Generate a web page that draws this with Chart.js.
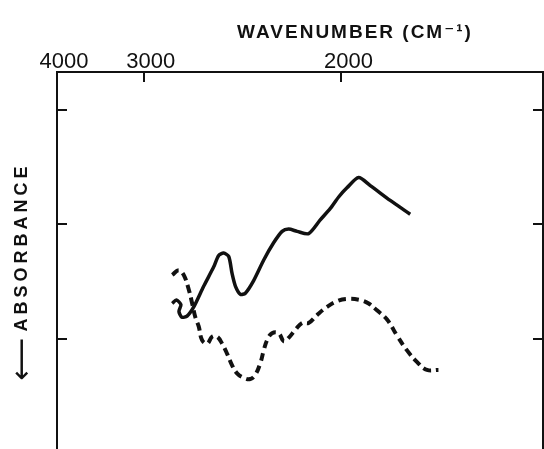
<!DOCTYPE html>
<html>
<head>
<meta charset="utf-8">
<script src="https://cdn.jsdelivr.net/npm/chart.js@4/dist/chart.umd.min.js"></script>
<style>
  html, body { margin: 0; padding: 0; background: #fff; overflow: hidden; }
  canvas { display: block; }
</style>
</head>
<body>
<canvas id="chart" width="544" height="476"></canvas>
<script>
// wavenumber axis (cm-1), left edge of the frame is labelled 4000
const xLeftEdge = 3439;
const xRightEdge = 980;
const xTickValues = [3439, 3000, 2000];
const xTickLabels = ['4000', '3000', '2000'];
const yTickValues = [1, 2, 3, 4];

// solid trace
const solidWavenumber = [2856, 2835, 2812, 2822, 2807, 2781, 2747, 2697, 2646, 2621, 2596, 2570, 2553, 2536, 2511, 2486,
  2444, 2393, 2343, 2300, 2267, 2224, 2166, 2107, 2056, 2014, 1972, 1913, 1854, 1753, 1652];
const solidAbsorbance = [2.69, 2.66, 2.70, 2.76, 2.81, 2.80, 2.72, 2.54, 2.37, 2.27, 2.25, 2.28, 2.43, 2.54, 2.61, 2.60,
  2.49, 2.31, 2.16, 2.06, 2.04, 2.06, 2.08, 1.96, 1.86, 1.76, 1.68, 1.59, 1.66, 1.79, 1.91];

// dashed trace
const dashedWavenumber = [2856, 2823, 2798, 2772, 2755, 2739, 2722, 2705, 2679, 2654, 2629, 2604, 2578, 2553, 2528, 2494,
  2461, 2435, 2410, 2393, 2376, 2351, 2317, 2292, 2267, 2233, 2199, 2166, 2123, 2073, 2022, 1972, 1904, 1862, 1820, 1769,
  1719, 1668, 1618, 1567, 1509];
const dashedAbsorbance = [2.44, 2.40, 2.44, 2.57, 2.69, 2.81, 2.89, 3.01, 3.04, 2.98, 2.98, 3.04, 3.13, 3.23, 3.30, 3.34,
  3.35, 3.31, 3.21, 3.10, 3.01, 2.95, 2.95, 3.02, 2.99, 2.92, 2.86, 2.86, 2.79, 2.72, 2.67, 2.65, 2.66, 2.69, 2.75, 2.83,
  2.97, 3.10, 3.20, 3.27, 3.27];

const toPoints = (xs, ys) => xs.map((x, i) => ({x: x, y: ys[i]}));

// axis titles drawn by hand, they are letter spaced in the original
const axisTitles = {
    id: 'axisTitles',
    afterDraw(chart) {
        const ctx = chart.ctx;
        ctx.save();
        ctx.fillStyle = '#111';
        ctx.letterSpacing = '2px';
        ctx.font = 'bold 19px "Liberation Sans", "DejaVu Sans", sans-serif';
        ctx.textAlign = 'center';
        ctx.textBaseline = 'alphabetic';
        ctx.fillText('WAVENUMBER (CM\u207B\u00B9)', 355, 38);

        ctx.rotate(-Math.PI / 2);
        ctx.textBaseline = 'middle';
        ctx.letterSpacing = '4px';
        ctx.font = 'bold 18px "Liberation Sans", "DejaVu Sans", sans-serif';
        ctx.fillText('ABSORBANCE', -247, 22);
        ctx.letterSpacing = '0px';
        ctx.font = '30px "DejaVu Sans", sans-serif';
        ctx.fillText('\u27F5', -359, 23);
        ctx.restore();
    }
};

const ctx = document.getElementById('chart').getContext('2d');
new Chart(ctx, {
    type: 'line',
    data: {
        datasets: [
            {
                label: 'solid',
                data: toPoints(solidWavenumber, solidAbsorbance),
                borderColor: '#111',
                borderWidth: 3.5,
                pointRadius: 0,
                tension: 0.25,
                fill: false
            },
            {
                label: 'dashed',
                data: toPoints(dashedWavenumber, dashedAbsorbance),
                borderColor: '#111',
                borderWidth: 4,
                borderDash: [8, 5],
                pointRadius: 0,
                tension: 0.4,
                fill: false
            }
        ]
    },
    options: {
        responsive: false,
        animation: false,
        devicePixelRatio: 1,
        layout: { padding: 0 },
        plugins: {
            legend: { display: false },
            tooltip: { enabled: false }
        },
        scales: {
            x: {
                type: 'linear',
                position: 'top',
                reverse: true,
                min: xRightEdge,
                max: xLeftEdge,
                afterBuildTicks: (scale) => {
                    scale.ticks = xTickValues.map(v => ({value: v}));
                },
                afterFit: (scale) => { scale.height = 72; },
                ticks: {
                    color: '#111',
                    font: { family: '"Liberation Sans", sans-serif', size: 22 },
                    maxRotation: 0,
                    autoSkip: false,
                    padding: 7,
                    labelOffset: 7,
                    callback: (value) => xTickLabels[xTickValues.indexOf(value)]
                },
                grid: {
                    drawOnChartArea: false,
                    color: '#111',
                    lineWidth: 2,
                    tickLength: -10
                },
                border: { color: '#111', width: 2 }
            },
            y: {
                type: 'linear',
                position: 'left',
                reverse: true,
                min: 0.668,
                max: 4.197,
                afterBuildTicks: (scale) => {
                    scale.ticks = yTickValues.map(v => ({value: v}));
                },
                afterFit: (scale) => { scale.width = 57; },
                ticks: { display: false },
                grid: {
                    drawOnChartArea: false,
                    color: '#111',
                    lineWidth: 2,
                    tickLength: -10
                },
                border: { color: '#111', width: 2 }
            },
            y2: {
                type: 'linear',
                position: 'right',
                reverse: true,
                min: 0.668,
                max: 4.197,
                afterBuildTicks: (scale) => {
                    scale.ticks = yTickValues.map(v => ({value: v}));
                },
                afterFit: (scale) => { scale.width = 1; },
                ticks: { display: false },
                grid: {
                    drawOnChartArea: false,
                    color: '#111',
                    lineWidth: 2,
                    tickLength: -10
                },
                border: { color: '#111', width: 2 }
            }
        }
    },
    plugins: [axisTitles]
});
</script>
</body>
</html>
